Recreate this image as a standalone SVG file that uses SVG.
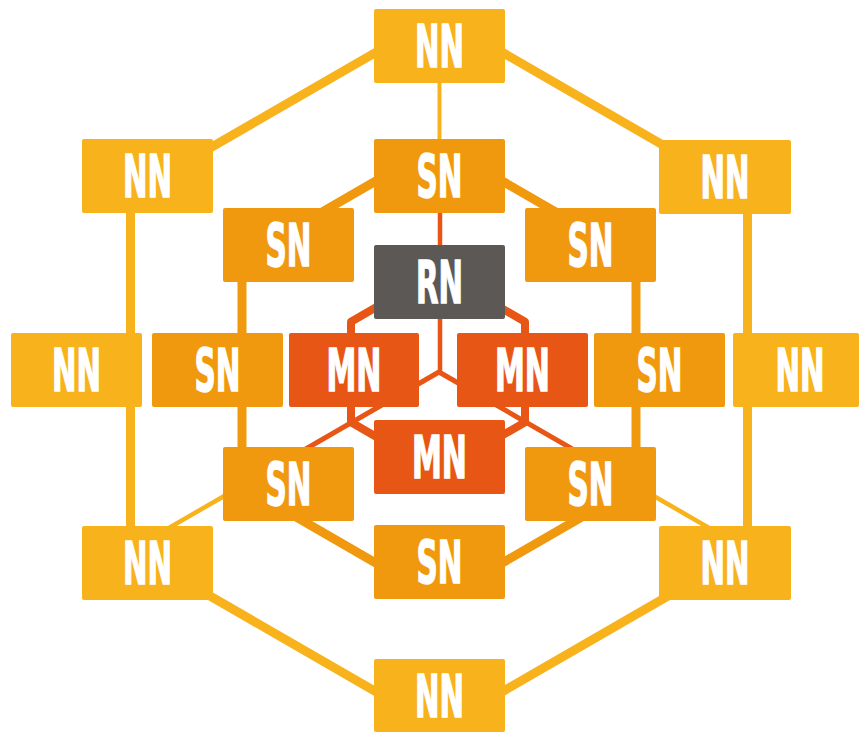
<svg xmlns="http://www.w3.org/2000/svg" width="859" height="732" viewBox="0 0 859 732">
<style>
.nn{fill:#F7B21C}
.sn{fill:#F0990E}
.mn{fill:#E85616}
.rn{fill:#5B5856}
.lbl{font-family:"DejaVu Sans","Liberation Sans",sans-serif;font-weight:bold;font-size:58px;fill:#FFFFFF;stroke:#FFFFFF;stroke-width:1.6;text-anchor:middle}
.ring{fill:none;stroke-linejoin:round}
</style>
<rect width="859" height="732" fill="#FFFFFF"/>
<g id="connectors">
<path class="ring" d="M439,15.8 L747.5,193.9 L747.5,550.1 L439,728.2 L130.5,550.1 L130.5,193.9 Z" stroke="#F7B21C" stroke-width="9"/>
<path class="ring" d="M470,581.6 L636,485.7 L636,258.3 L439,144.5 L242,258.3 L242,485.7 L408,581.6" stroke="#F0990E" stroke-width="9"/>
<path class="ring" d="M438,271.5 L525,321.8 L525,422.2 L438,472.5 L351,422.2 L351,321.8 Z" stroke="#E85616" stroke-width="8"/>
<path d="M439.5,16 V144" stroke="#F7B21C" stroke-width="4" fill="none"/>
<path d="M440,144 V372" stroke="#E85616" stroke-width="4.5" fill="none"/>
<path d="M439,372 L242,485.7 M439,372 L636,485.7" stroke="#E85616" stroke-width="5" fill="none" stroke-linejoin="round"/>
<path d="M242,485.7 L130.5,550.1 M636,485.7 L747.5,550.1" stroke="#F7B21C" stroke-width="4.5" fill="none"/>
</g>
<g id="nn-top"><rect class="nn" x="374" y="9" width="131" height="74" rx="2"/><text class="lbl" x="439.5" y="67" textLength="49" lengthAdjust="spacingAndGlyphs">NN</text></g>
<g id="nn-upper-left"><rect class="nn" x="82" y="139" width="131" height="74" rx="2"/><text class="lbl" x="147.5" y="197" textLength="49" lengthAdjust="spacingAndGlyphs">NN</text></g>
<g id="nn-upper-right"><rect class="nn" x="659" y="140" width="132" height="74" rx="2"/><text class="lbl" x="725" y="198" textLength="49" lengthAdjust="spacingAndGlyphs">NN</text></g>
<g id="nn-left"><rect class="nn" x="11" y="333" width="131" height="74" rx="2"/><text class="lbl" x="76.5" y="391" textLength="49" lengthAdjust="spacingAndGlyphs">NN</text></g>
<g id="nn-right"><rect class="nn" x="733" y="333" width="126" height="74" rx="2"/><text class="lbl" x="800" y="391" textLength="49" lengthAdjust="spacingAndGlyphs">NN</text></g>
<g id="nn-lower-left"><rect class="nn" x="82" y="526" width="131" height="74" rx="2"/><text class="lbl" x="147.5" y="584" textLength="49" lengthAdjust="spacingAndGlyphs">NN</text></g>
<g id="nn-lower-right"><rect class="nn" x="659" y="526" width="132" height="74" rx="2"/><text class="lbl" x="725" y="584" textLength="49" lengthAdjust="spacingAndGlyphs">NN</text></g>
<g id="nn-bottom"><rect class="nn" x="374" y="659" width="131" height="73" rx="2"/><text class="lbl" x="439.5" y="717" textLength="49" lengthAdjust="spacingAndGlyphs">NN</text></g>
<g id="sn-top"><rect class="sn" x="374" y="139" width="131" height="74" rx="2"/><text class="lbl" x="439.5" y="197" textLength="46" lengthAdjust="spacingAndGlyphs">SN</text></g>
<g id="sn-upper-left"><rect class="sn" x="223" y="208" width="131" height="74" rx="2"/><text class="lbl" x="288.5" y="266" textLength="46" lengthAdjust="spacingAndGlyphs">SN</text></g>
<g id="sn-upper-right"><rect class="sn" x="525" y="208" width="131" height="74" rx="2"/><text class="lbl" x="590.5" y="266" textLength="46" lengthAdjust="spacingAndGlyphs">SN</text></g>
<g id="sn-left"><rect class="sn" x="152" y="333" width="131" height="74" rx="2"/><text class="lbl" x="217.5" y="391" textLength="46" lengthAdjust="spacingAndGlyphs">SN</text></g>
<g id="sn-right"><rect class="sn" x="594" y="333" width="131" height="74" rx="2"/><text class="lbl" x="659.5" y="391" textLength="46" lengthAdjust="spacingAndGlyphs">SN</text></g>
<g id="sn-lower-left"><rect class="sn" x="223" y="447" width="131" height="74" rx="2"/><text class="lbl" x="288.5" y="505" textLength="46" lengthAdjust="spacingAndGlyphs">SN</text></g>
<g id="sn-lower-right"><rect class="sn" x="525" y="447" width="131" height="74" rx="2"/><text class="lbl" x="590.5" y="505" textLength="46" lengthAdjust="spacingAndGlyphs">SN</text></g>
<g id="sn-bottom"><rect class="sn" x="374" y="525" width="131" height="74" rx="2"/><text class="lbl" x="439.5" y="583" textLength="46" lengthAdjust="spacingAndGlyphs">SN</text></g>
<g id="rn"><rect class="rn" x="374" y="245" width="131" height="74" rx="2"/><text class="lbl" x="439.5" y="303" textLength="47" lengthAdjust="spacingAndGlyphs">RN</text></g>
<g id="mn-left"><rect class="mn" x="289" y="333" width="130" height="74" rx="2"/><text class="lbl" x="354" y="391" textLength="55" lengthAdjust="spacingAndGlyphs">MN</text></g>
<g id="mn-right"><rect class="mn" x="457" y="333" width="131" height="74" rx="2"/><text class="lbl" x="522.5" y="391" textLength="55" lengthAdjust="spacingAndGlyphs">MN</text></g>
<g id="mn-bottom"><rect class="mn" x="374" y="420" width="131" height="74" rx="2"/><text class="lbl" x="439.5" y="478" textLength="55" lengthAdjust="spacingAndGlyphs">MN</text></g>
</svg>
